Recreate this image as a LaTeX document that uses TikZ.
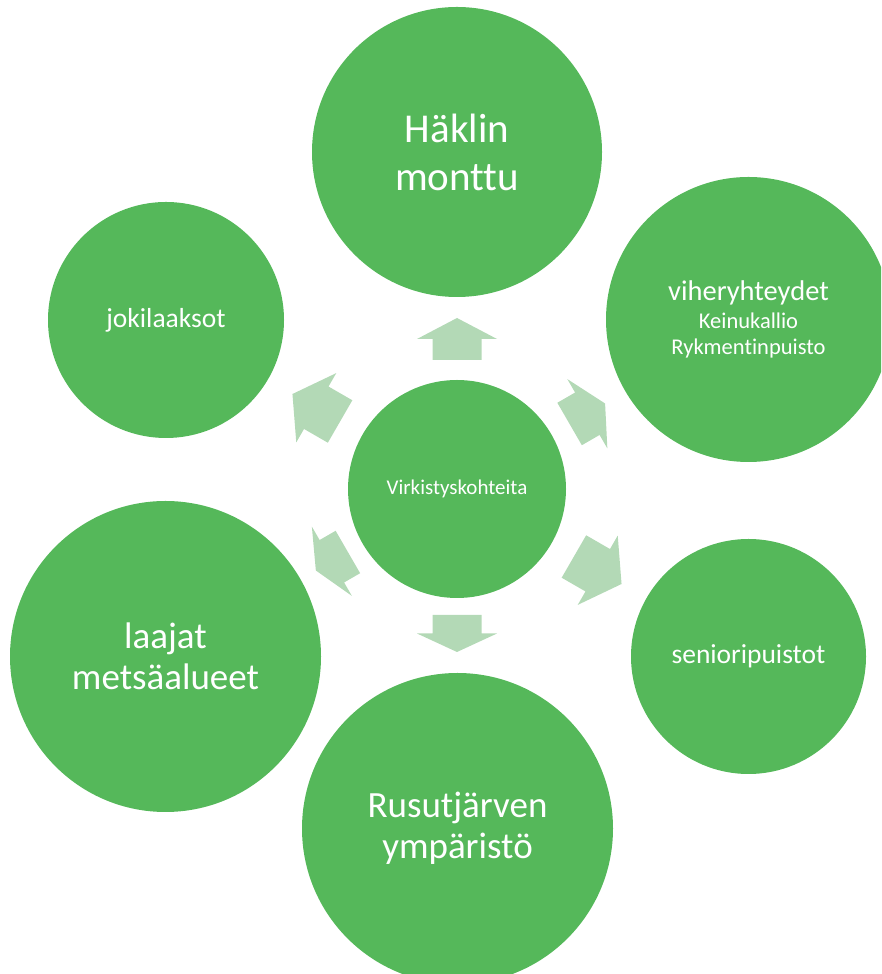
\documentclass[tikz,border=0pt]{standalone}
\usepackage{fontspec}
\setmainfont{Carlito}[Ligatures=NoCommon]
\definecolor{circgreen}{HTML}{55B85A}
\definecolor{arrowgreen}{HTML}{B3D9B6}
\begin{document}
\begin{tikzpicture}[x=1pt,y=1pt,
  bubble/.style={circle, fill=circgreen, text=white, inner sep=0pt, align=center},
  arrowshape/.style={fill=arrowgreen}]
\clip (0,0) rectangle (881,974);
% centre
\node[bubble, minimum size=218, font=\fontsize{21}{25}\selectfont] (c) at (457,485) {Virkistyskohteita};
% outer circles
\node[bubble, minimum size=290, font=\fontsize{41}{48}\selectfont] (top) at (457,822) {Häklin\\monttu};
\node[bubble, minimum size=285, font=\fontsize{22.5}{26}\selectfont] (tr) at (748.5,654.5) {{\fontsize{28.5}{28.5}\selectfont viheryhteydet}\\[2pt]Keinukallio\\Rykmentinpuisto};
\node[bubble, minimum size=235, font=\fontsize{27.5}{32}\selectfont] (br) at (748.5,317.5) {senioripuistot};
\node[bubble, minimum size=311, font=\fontsize{37}{41}\selectfont] (bot) at (457.5,145.5) {Rusutjärven\\ympäristö};
\node[bubble, minimum size=311, font=\fontsize{37}{41}\selectfont] (bl) at (165.5,317.5) {laajat\\metsäalueet};
\node[bubble, minimum size=236, font=\fontsize{27.5}{32}\selectfont] (tl) at (166,654) {jokilaaksot};
% block arrows
\foreach \a/\p/\q in {90/129/171, 30/130/171, -30/135/190, -90/126/163, 210/126/163, 150/135/190}{
  \pgfmathsetmacro{\m}{(\p+\q)/2}
  \fill[arrowshape, shift={(c.center)}, rotate=\a]
    (\p,-24.5) -- (\m,-24.5) -- (\m,-40) -- (\q,0) -- (\m,40) -- (\m,24.5) -- (\p,24.5) -- cycle;
}
\end{tikzpicture}
\end{document}
